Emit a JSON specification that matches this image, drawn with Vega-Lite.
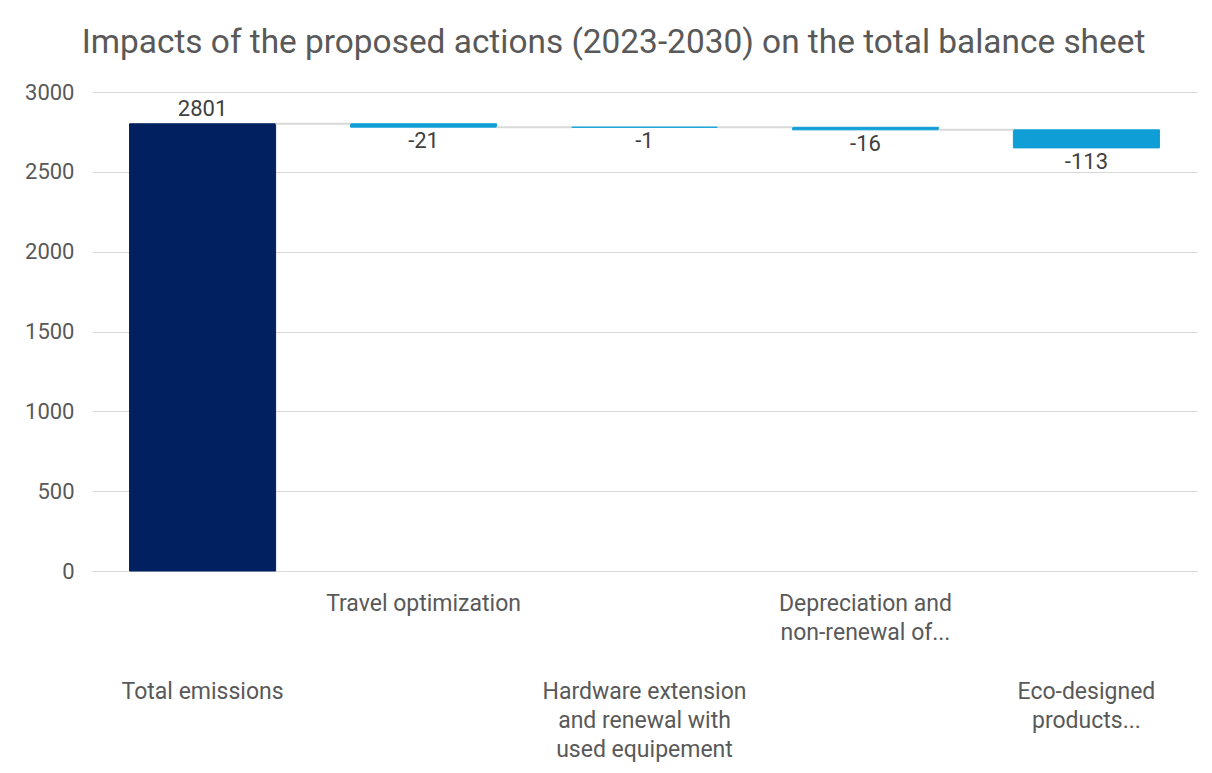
{
  "$schema": "https://vega.github.io/schema/vega-lite/v6.json",
  "width": 1105,
  "height": 479,
  "autosize": {"type": "none"},
  "padding": {"left": 92, "top": 92, "right": 15, "bottom": 202},
  "background": "white",
  "config": {
    "font": "Roboto",
    "view": {"stroke": null}
  },
  "title": {
    "text": "Impacts of the proposed actions (2023-2030) on the total balance sheet",
    "fontSize": 33.4,
    "font": "Roboto",
    "fontWeight": "normal",
    "color": "#595959",
    "offset": 21,
    "dx": -31,
    "anchor": "middle"
  },
  "data": {
    "values": [
      {"category": "Total emissions", "amount": 2801, "kind": "total", "next": "Travel optimization"},
      {"category": "Travel optimization", "amount": -21, "kind": "decrease", "next": "Hardware extension and renewal with used equipement"},
      {"category": "Hardware extension and renewal with used equipement", "amount": -1, "kind": "decrease", "next": "Depreciation and non-renewal of..."},
      {"category": "Depreciation and non-renewal of...", "amount": -16, "kind": "decrease", "next": "Eco-designed products..."},
      {"category": "Eco-designed products...", "amount": -113, "kind": "decrease", "next": null}
    ]
  },
  "transform": [
    {"window": [{"op": "sum", "field": "amount", "as": "end"}], "frame": [null, 0]},
    {"calculate": "datum.end - datum.amount", "as": "start"}
  ],
  "encoding": {
    "x": {
      "field": "category",
      "type": "nominal",
      "sort": null,
      "scale": {
        "domain": ["Total emissions", "Travel optimization", "Hardware extension and renewal with used equipement", "Depreciation and non-renewal of...", "Eco-designed products..."],
        "paddingInner": 0.339,
        "paddingOuter": 0.17
      },
      "axis": {
        "title": null,
        "labelAngle": 0,
        "domainColor": "#d9d9d9",
        "domainWidth": 1,
        "ticks": false,
        "labelFontSize": 23,
        "labelColor": "#595959",
        "labelLineHeight": 29.3,
        "labelPadding": {
          "condition": {"test": "datum.value == 'Total emissions' || datum.value == 'Eco-designed products...' || datum.value == 'Hardware extension and renewal with used equipement'", "value": 109},
          "value": 21
        },
        "labelBaseline": "top",
        "labelLimit": 0,
        "labelOverlap": false,
        "labelExpr": "datum.value == 'Depreciation and non-renewal of...' ? ['Depreciation and', 'non-renewal of...'] : datum.value == 'Eco-designed products...' ? ['Eco-designed', 'products...'] : datum.value == 'Hardware extension and renewal with used equipement' ? ['Hardware extension', 'and renewal with', 'used equipement'] : datum.value"
      }
    }
  },
  "layer": [
    {
      "mark": {"type": "bar", "strokeWidth": 1},
      "encoding": {
        "y": {
          "field": "start",
          "type": "quantitative",
          "scale": {"domain": [0, 3000], "nice": false},
          "axis": {
            "title": null,
            "values": [0, 500, 1000, 1500, 2000, 2500, 3000],
            "grid": true,
            "gridColor": "#d9d9d9",
            "domain": false,
            "ticks": false,
            "labelPadding": 18,
            "labelFontSize": 22,
            "labelColor": "#595959",
            "format": "d"
          }
        },
        "y2": {"field": "end"},
        "color": {
          "field": "kind",
          "type": "nominal",
          "scale": {"domain": ["total", "decrease"], "range": ["#002060", "#0F9ED5"]},
          "legend": null
        },
        "stroke": {
          "field": "kind",
          "type": "nominal",
          "scale": {"domain": ["total", "decrease"], "range": ["#002060", "#0F9ED5"]},
          "legend": null
        }
      }
    },
    {
      "transform": [{"filter": "datum.next != null"}],
      "mark": {"type": "rule", "color": "#d9d9d9", "strokeWidth": 2},
      "encoding": {
        "x": {"field": "category", "type": "nominal", "sort": null, "bandPosition": 1},
        "x2": {"field": "next", "bandPosition": 0},
        "y": {"field": "end", "type": "quantitative"}
      }
    },
    {
      "transform": [{"filter": "datum.kind == 'total'"}],
      "mark": {"type": "text", "baseline": "bottom", "dy": -3, "fontSize": 22, "color": "#404040"},
      "encoding": {
        "y": {"field": "end", "type": "quantitative"},
        "text": {"field": "amount", "type": "nominal"}
      }
    },
    {
      "transform": [{"filter": "datum.kind == 'decrease'"}],
      "mark": {"type": "text", "baseline": "top", "dy": 4, "fontSize": 22, "color": "#404040"},
      "encoding": {
        "y": {"field": "end", "type": "quantitative"},
        "text": {"field": "amount", "type": "nominal"}
      }
    }
  ]
}
